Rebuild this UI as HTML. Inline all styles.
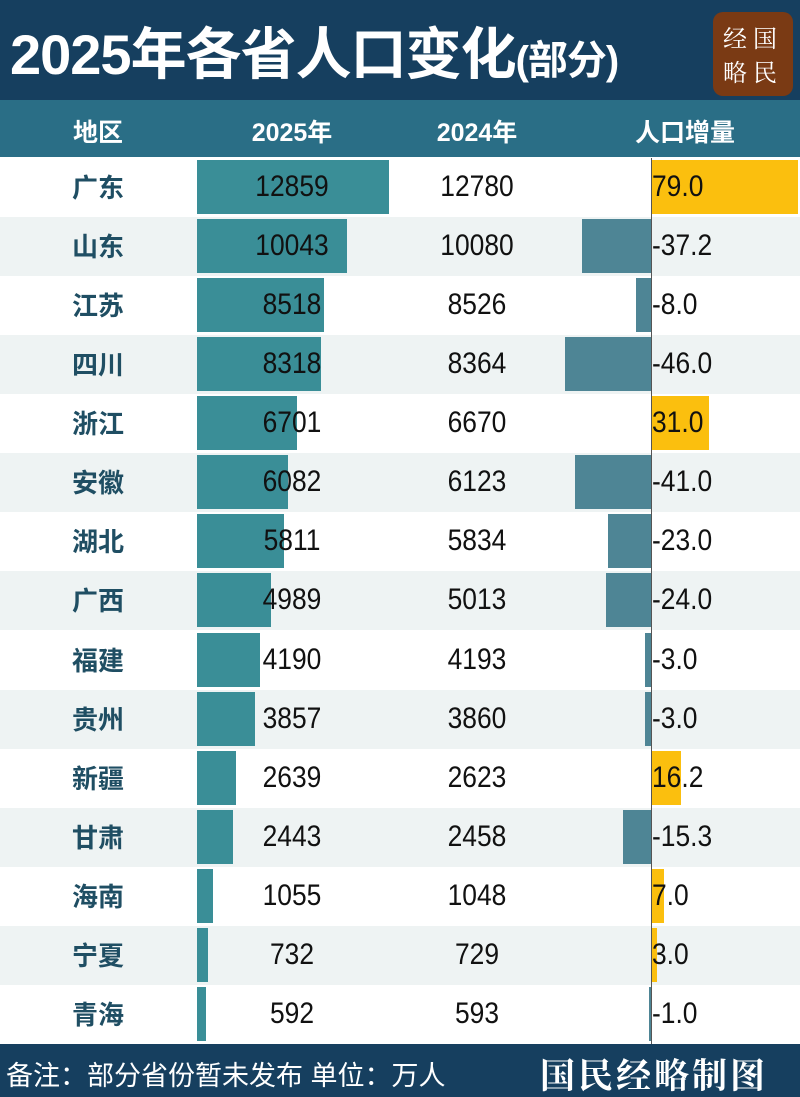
<!DOCTYPE html>
<html><head><meta charset="utf-8"><style>
body{margin:0;width:800px;height:1097px;overflow:hidden;background:#fff;font-family:"Liberation Sans","Noto Sans CJK SC",sans-serif;position:relative}
.t{position:absolute;left:0;top:0;width:800px;height:100px;background:#163f5f}
.t h1{position:absolute;left:10px;top:10px;margin:0;color:#fff;font-size:56px;font-weight:bold;letter-spacing:-1px;white-space:nowrap}
.t h1 small{font-size:40px}
.logo{position:absolute;left:713px;top:12px;width:80px;height:84px;background:#7a3a14;border-radius:10px;color:#fff;font-family:"Noto Serif CJK SC",serif;font-size:24px;line-height:34px;text-align:center;padding-top:8px;box-sizing:border-box;letter-spacing:6px}
.h{position:absolute;left:0;top:100px;width:800px;height:57px;background:#2a6e86;color:#fff;font-weight:bold;font-size:25px}
.h span{position:absolute;top:13px;transform:translateX(-50%)}
.r{position:absolute;left:0;width:800px;height:59px}
.r span{position:absolute;top:12px;font-size:30px;color:#111;transform:translateX(-50%) scaleX(0.88);white-space:nowrap}
.r .n{font-weight:bold;color:#1f4e63;left:98px;font-size:26px;top:10px;transform:translateX(-50%)}
.b{position:absolute;left:197px;top:2px;height:54px;background:#3a8e97}
.d{position:absolute;top:2px;height:54px}
.ax{position:absolute;left:651px;top:158px;width:1px;height:886px;background:#555}
.f{position:absolute;left:0;top:1044px;width:800px;height:53px;background:#163f5f;color:#fff;font-size:27px;white-space:nowrap;overflow:hidden}
</style></head><body>
<div class="t"><h1>2025年各省人口变化<small>(部分)</small></h1><div class="logo">经国<br>略民</div></div>
<div class="h"><span style="left:98px">地区</span><span style="left:292px">2025年</span><span style="left:477px">2024年</span><span style="left:685px">人口增量</span></div>
<div id="rows"></div>
<div class="ax"></div>
<div class="f"><span style="position:absolute;left:6px;top:10px">备注：部分省份暂未发布 单位：万人</span><span style="position:absolute;left:540px;top:5px;font-family:'Noto Serif CJK SC',serif;font-size:35px;font-weight:bold;letter-spacing:3px">国民经略制图</span></div>
<script>
var d=[["广东",12859,12780,79.0],["山东",10043,10080,-37.2],["江苏",8518,8526,-8.0],["四川",8318,8364,-46.0],["浙江",6701,6670,31.0],["安徽",6082,6123,-41.0],["湖北",5811,5834,-23.0],["广西",4989,5013,-24.0],["福建",4190,4193,-3.0],["贵州",3857,3860,-3.0],["新疆",2639,2623,16.2],["甘肃",2443,2458,-15.3],["海南",1055,1048,7.0],["宁夏",732,729,3.0],["青海",592,593,-1.0]];
var h="";
d.forEach(function(x,i){
var top=158+i*59.07,w=x[1]*0.01493,v=x[3],dw=Math.abs(v)*1.86;
var dl=v>=0?651:651-dw,c=v>=0?"#fbbf0e":"#4e8595";
h+='<div class="r" style="top:'+top+'px;background:'+(i%2?'#eef3f3':'#fff')+'">'+
'<div class="b" style="width:'+w+'px"></div>'+
'<div class="d" style="left:'+dl+'px;width:'+dw+'px;background:'+c+'"></div>'+
'<span class="n">'+x[0]+'</span><span style="left:292px">'+x[1]+'</span><span style="left:477px">'+x[2]+'</span>'+
'<span style="left:652px;transform:scaleX(0.88);transform-origin:left">'+v.toFixed(1)+'</span></div>';});
document.getElementById("rows").innerHTML=h;
</script>
</body></html>
